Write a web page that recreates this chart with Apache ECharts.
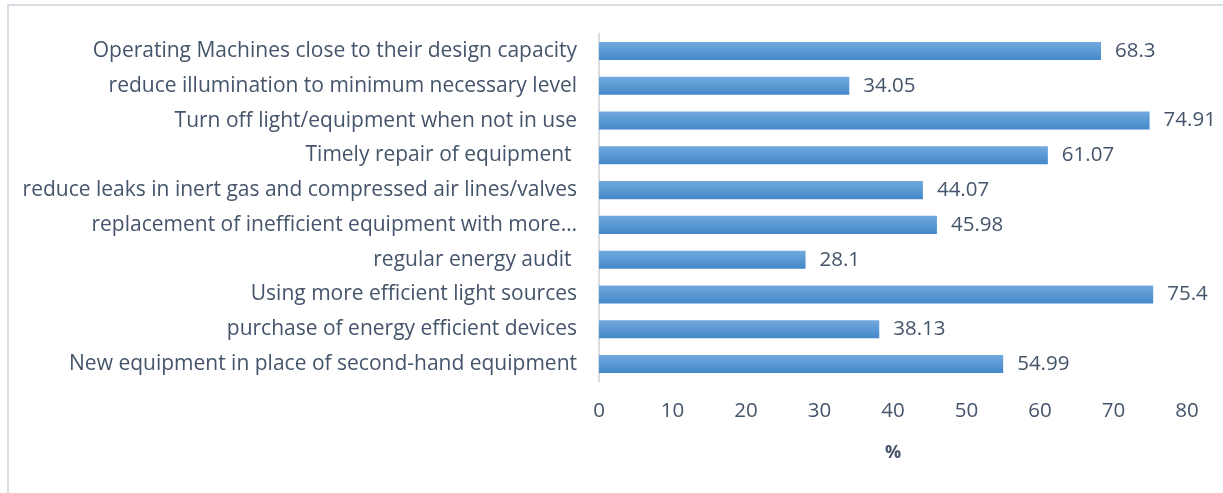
<!DOCTYPE html>
<html>
<head>
<meta charset="utf-8">
<script src="https://cdn.jsdelivr.net/npm/echarts@6/dist/echarts.min.js"></script>
<style>
  html, body { margin: 0; padding: 0; background: #fff; }
  #frame { position: absolute; left: 7px; top: 4px; width: 1240px; height: 500px;
           border-left: 2px solid #d9dee4; border-top: 2px solid #d9dee4; }
  #chart { position: absolute; left: 0; top: 0; width: 1223px; height: 493px; }
</style>
</head>
<body>
<div id="frame"></div>
<div id="chart"></div>
<script>
const categories = [
  "Operating Machines close to their design capacity",
  "reduce illumination to minimum necessary level",
  "Turn off light/equipment when not in use",
  "Timely repair of equipment ",
  "reduce leaks in inert gas and compressed air lines/valves",
  "replacement of inefficient equipment with more\u2026",
  "regular energy audit ",
  "Using more efficient light sources",
  "purchase of energy efficient devices",
  "New equipment in place of second-hand equipment"
];
const values = [68.3, 34.05, 74.91, 61.07, 44.07, 45.98, 28.1, 75.4, 38.13, 54.99];
const axisName = "%";

const textColor = "#44546a";
const font = "Open Sans";
const chart = echarts.init(document.getElementById('chart'), null, { renderer: 'canvas' });
chart.setOption({
  animation: false,
  backgroundColor: 'transparent',
  grid: { left: 599, right: 36, top: 33.6, bottom: 111.6, containLabel: false },
  xAxis: {
    type: 'value', min: 0, max: 80, interval: 10,
    axisLine: { show: false }, axisTick: { show: false }, splitLine: { show: false },
    axisLabel: { color: textColor, fontSize: 20.5, fontFamily: font, margin: 19 },
    name: axisName, nameLocation: 'middle', nameGap: 62,
    nameTextStyle: { color: textColor, fontSize: 18, fontWeight: 'bold', fontFamily: font }
  },
  yAxis: {
    type: 'category', data: categories, inverse: true,
    axisLine: { show: true, lineStyle: { color: '#d9dde2', width: 2 } },
    axisTick: { show: false },
    axisLabel: { color: textColor, fontSize: 21, fontFamily: font, margin: 22 }
  },
  series: [{
    type: 'bar', data: values, barWidth: '52%',
    itemStyle: {
      color: new echarts.graphic.LinearGradient(0, 0, 0, 1, [
        { offset: 0, color: '#72a9de' },
        { offset: 1, color: '#4388c9' }
      ])
    },
    label: { show: true, position: 'right', distance: 14, color: textColor, fontSize: 20.5, fontFamily: font }
  }]
});
</script>
</body>
</html>
